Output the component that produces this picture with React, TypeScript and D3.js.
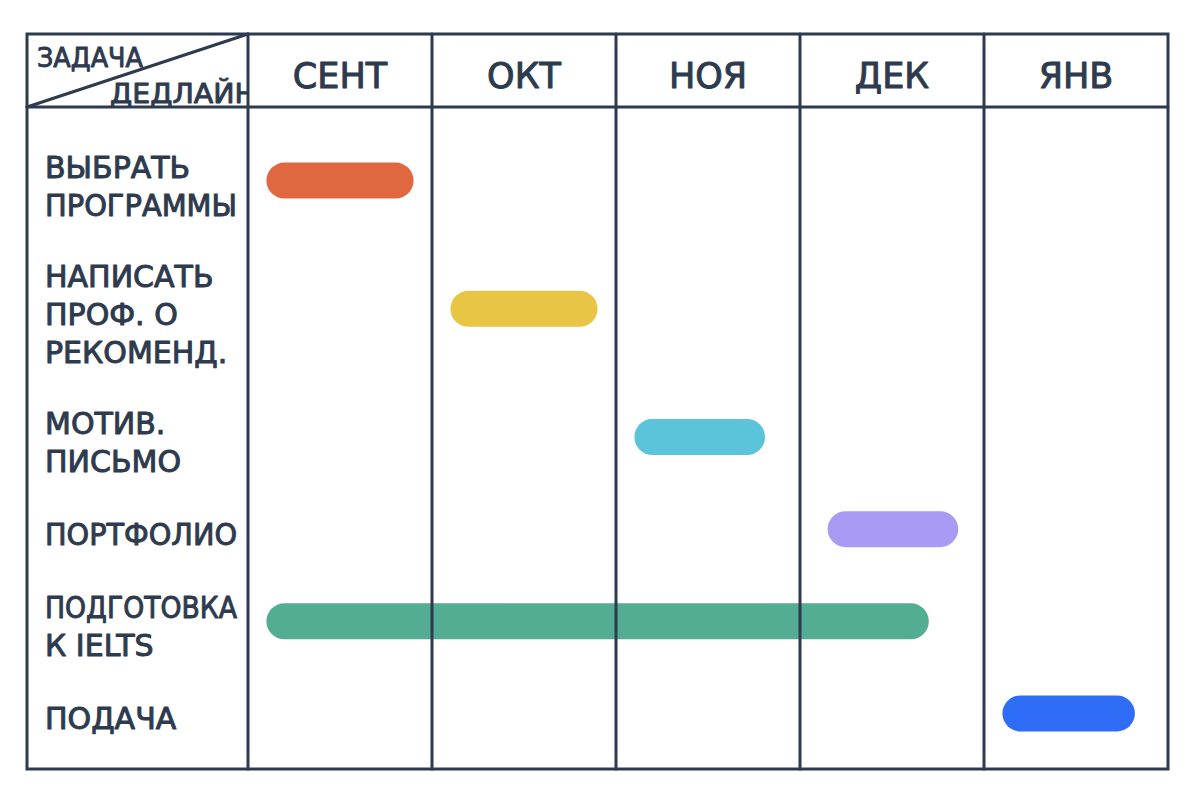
import React, { useEffect, useRef } from "react";
import * as d3 from "d3";

// ---- data ----
const months = ["СЕНТ", "ОКТ", "НОЯ", "ДЕК", "ЯНВ"];
const taskLabels: string[][] = [
  ["ВЫБРАТЬ", "ПРОГРАММЫ"],
  ["НАПИСАТЬ", "ПРОФ. О", "РЕКОМЕНД."],
  ["МОТИВ.", "ПИСЬМО"],
  ["ПОРТФОЛИО"],
  ["ПОДГОТОВКА", "К IELTS"],
  ["ПОДАЧА"],
];
// start / end measured in months from the beginning of September
const taskStart = [0.1, 1.1, 2.1, 3.15, 0.1, 4.1];
const taskEnd = [0.9, 1.9, 2.81, 3.86, 3.7, 4.82];
const taskColors = ["#E06841", "#E8C545", "#5BC4DA", "#A99BF4", "#52AD93", "#2F6DF6"];
const cornerTop = "ЗАДАЧА";
const cornerBottom = "ДЕДЛАЙН";

const INK = "#2E3A4D";
const FONT = "'DejaVu Sans', 'Noto Sans', sans-serif";

export default function App() {
  const W = 1200;
  const H = 804;
  const left = 27;
  const labelRight = 248;
  const right = 1168;
  const top = 34;
  const headerBottom = 107;
  const bottom = 769;
  const labelMax = 192;
  const bodyPad = 18.5;

  const gRef = useRef<SVGGElement>(null);

  useEffect(() => {
    if (!gRef.current) return;
    d3.select(gRef.current)
      .selectAll<SVGTextElement, unknown>("text")
      .each(function () {
        const len = this.getComputedTextLength();
        if (len > labelMax) {
          this.setAttribute("textLength", String(labelMax));
          this.setAttribute("lengthAdjust", "spacingAndGlyphs");
        }
      });
  }, []);

  const x = d3.scaleLinear().domain([0, months.length]).range([labelRight, right]);

  // row height grows with the number of label lines
  const rowWeights = taskLabels.map((l) => l.length * 36 + 38);
  const cum = d3.cumsum(rowWeights);
  const total = cum[cum.length - 1];
  const y = d3
    .scaleLinear()
    .domain([0, total])
    .range([headerBottom + bodyPad, bottom - bodyPad]);
  const rowCenter = (i: number) => y((i === 0 ? 0 : cum[i - 1]) + rowWeights[i] / 2);

  const barH = 36;
  const lineH = 38;

  return (
    <svg
      width={W}
      height={H}
      viewBox={`0 0 ${W} ${H}`}
      style={{ position: "absolute", left: 0, top: 0, background: "#fff" }}
    >
      <defs>
        <clipPath id="cornerClip">
          <rect x={left} y={top} width={labelRight - left - 1} height={headerBottom - top} />
        </clipPath>
      </defs>
      <rect x={0} y={0} width={W} height={H} fill="#fff" />

      {/* bars */}
      {taskStart.map((s, i) => (
        <line
          key={"bar" + i}
          x1={x(s) + barH / 2}
          x2={x(taskEnd[i]) - barH / 2}
          y1={rowCenter(i)}
          y2={rowCenter(i)}
          stroke={taskColors[i]}
          strokeWidth={barH}
          strokeLinecap="round"
        />
      ))}

      {/* grid */}
      <g stroke={INK} strokeWidth={3} fill="none" strokeLinecap="round">
        <rect x={left} y={top} width={right - left} height={bottom - top} />
        <line x1={left} x2={right} y1={headerBottom} y2={headerBottom} />
        <line x1={labelRight} x2={labelRight} y1={top} y2={bottom} />
        {months.map((m, i) =>
          i === 0 ? null : (
            <line key={"v" + i} x1={x(i)} x2={x(i)} y1={top} y2={bottom} />
          )
        )}
        <line x1={left} y1={headerBottom} x2={labelRight} y2={top} />
      </g>

      {/* corner header */}
      <g
        fill={INK}
        stroke={INK}
        strokeWidth={0.9}
        strokeLinejoin="round"
        fontFamily={FONT}
        clipPath="url(#cornerClip)"
      >
        <text x={37} y={67} fontSize={26} textLength={106} lengthAdjust="spacingAndGlyphs">
          {cornerTop}
        </text>
        <text x={110} y={103} fontSize={26} textLength={146} lengthAdjust="spacingAndGlyphs">
          {cornerBottom}
        </text>
      </g>

      {/* month labels */}
      <g
        fill={INK}
        stroke={INK}
        strokeWidth={1}
        strokeLinejoin="round"
        fontFamily={FONT}
        fontSize={35}
        textAnchor="middle"
      >
        {months.map((m, i) => (
          <text key={m} x={x(i + 0.5)} y={88}>
            {m}
          </text>
        ))}
      </g>

      {/* task labels */}
      <g
        ref={gRef}
        fill={INK}
        stroke={INK}
        strokeWidth={1}
        strokeLinejoin="round"
        fontFamily={FONT}
        fontSize={30}
      >
        {taskLabels.map((lines, i) => {
          const c = rowCenter(i);
          const firstBaseline = c + 16 - ((lines.length - 1) * lineH) / 2;
          return lines.map((ln, j) => (
            <text key={"t" + i + "-" + j} x={45} y={firstBaseline + j * lineH}>
              {ln}
            </text>
          ));
        })}
      </g>
    </svg>
  );
}
